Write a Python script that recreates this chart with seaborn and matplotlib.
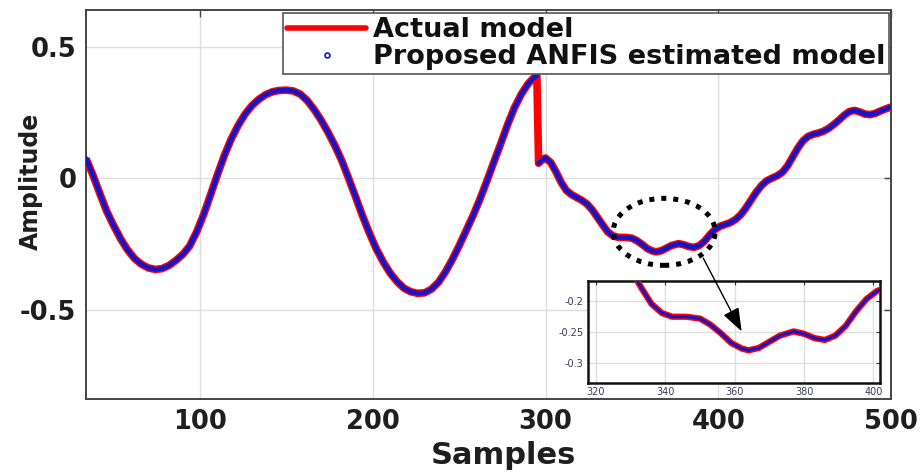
import numpy as np
import pandas as pd
import matplotlib
matplotlib.use("Agg")
import matplotlib.pyplot as plt
from matplotlib.lines import Line2D
from matplotlib.patches import Ellipse
import seaborn as sns

# ---------------- data ----------------
samples = [34, 38, 42, 46, 50, 54, 58, 62, 66, 70, 74, 78, 82, 86, 90, 94, 98,
           102, 106, 110, 114, 118, 122, 126, 130, 134, 138, 142, 146, 150, 154,
           158, 162, 166, 170, 174, 178, 182, 186, 190, 194, 198, 202, 206, 210,
           214, 218, 222, 226, 230, 234, 238, 242, 246, 250, 254, 258, 262, 266,
           270, 274, 278, 282, 286, 290, 293, 295,
           296, 298, 300, 303, 306, 309, 312, 315, 318, 321, 324, 327, 330, 333,
           336, 339, 342, 346, 350, 353, 356, 359, 362, 364, 367, 370, 373, 377,
           380, 383, 386, 389, 392, 395, 398, 401, 404, 407, 410, 413, 416, 419,
           422, 425, 428, 431, 434, 437, 440, 443, 446, 449, 452, 455, 458, 461,
           464, 467, 470, 473, 476, 479, 482, 485, 488, 491, 494, 497, 500]

actual_model = [0.075, 0.012, -0.058, -0.126, -0.18, -0.23, -0.272, -0.305, -0.327,
                -0.341, -0.347, -0.344, -0.332, -0.313, -0.29, -0.258, -0.205,
                -0.14, -0.065, 0.012, 0.085, 0.148, 0.2, 0.243, 0.276, 0.3, 0.318,
                0.329, 0.334, 0.335, 0.332, 0.32, 0.296, 0.262, 0.222, 0.176, 0.125,
                0.068, 0.0, -0.07, -0.142, -0.208, -0.268, -0.318, -0.36, -0.393,
                -0.418, -0.432, -0.438, -0.436, -0.422, -0.396, -0.357, -0.31,
                -0.257, -0.2, -0.143, -0.08, -0.012, 0.06, 0.13, 0.203, 0.268, 0.32,
                0.36, 0.381, 0.39,
                0.057, 0.07, 0.077, 0.06, 0.025, -0.015, -0.046, -0.062, -0.073,
                -0.084, -0.098, -0.12, -0.148, -0.177, -0.204, -0.219, -0.225,
                -0.225, -0.228, -0.238, -0.252, -0.268, -0.277, -0.28, -0.276,
                -0.266, -0.256, -0.249, -0.253, -0.26, -0.263, -0.256, -0.24,
                -0.216, -0.196, -0.183, -0.176, -0.169, -0.157, -0.139, -0.113,
                -0.083, -0.053, -0.028, -0.01, 0.0, 0.009, 0.022, 0.046, 0.08, 0.114,
                0.142, 0.159, 0.167, 0.172, 0.179, 0.19, 0.205, 0.222, 0.24, 0.254,
                0.258, 0.252, 0.244, 0.242, 0.247, 0.256, 0.264, 0.271]

# the ANFIS estimate overlays the actual output
anfis_estimate = list(actual_model)

x_ticks = [100, 200, 300, 400, 500]
x_tick_labels = ["100", "200", "300", "400", "500"]
y_ticks = [-0.5, 0, 0.5]
y_tick_labels = ["-0.5", "0", "0.5"]

inset_x_ticks = [320, 340, 360, 380, 400]
inset_x_tick_labels = ["320", "340", "360", "380", "400"]
inset_y_ticks = [-0.3, -0.25, -0.2]
inset_y_tick_labels = ["-0.3", "-0.25", "-0.2"]

series_labels = ["Actual model", "Proposed ANFIS estimated model"]

# ---------------- styling ----------------
sns.set_style("white")
plt.rcParams["font.family"] = ["DejaVu Sans"]
plt.rcParams["axes.unicode_minus"] = False

RED = "#ff0000"
BLUE = "#1414c8"
GRID = "#dedede"

df = pd.DataFrame({"Sample": samples, "Actual": actual_model,
                   "Estimated": anfis_estimate})
# blue is drawn as markers in the original: no segment across the jump
jump = np.abs(np.diff(df["Estimated"].to_numpy(), prepend=df["Estimated"].iloc[0])) > 0.2
df["segment"] = np.cumsum(jump)

W, H = 921, 474
fig = plt.figure(figsize=(W / 100, H / 100), dpi=100)
ax = fig.add_axes([86 / W, 1 - 399 / H, 805 / W, 389 / H])
ax_in = fig.add_axes([587.7 / W, 1 - 383.3 / H, 292.3 / W, 102.6 / H])


def draw(a, lw_red, lw_blue):
    sns.lineplot(data=df, x="Sample", y="Actual", color=RED, lw=lw_red,
                 estimator=None, sort=False, ax=a, legend=False, zorder=3,
                 solid_joinstyle="round", solid_capstyle="butt")
    sns.lineplot(data=df, x="Sample", y="Estimated", units="segment",
                 color=BLUE, lw=lw_blue, estimator=None, sort=False, ax=a,
                 legend=False, zorder=4, solid_joinstyle="round",
                 solid_capstyle="round")
    a.set_xlabel("")
    a.set_ylabel("")


# main axes
draw(ax, 5.5, 3.4)
ax.set_xlim(34, 500)
ax.set_ylim(-0.84, 0.64)
ax.set_xticks(x_ticks)
ax.set_xticklabels(x_tick_labels)
ax.set_yticks(y_ticks)
ax.set_yticklabels(y_tick_labels)
ax.grid(True, color=GRID, lw=1.0)
ax.set_axisbelow(True)
ax.tick_params(direction="in", length=5, width=1, top=True, right=True,
               labelsize=18.5, pad=7, color="#444444", labelcolor="#1e1e1e")
for t in ax.get_xticklabels() + ax.get_yticklabels():
    t.set_fontweight("bold")
for s in ax.spines.values():
    s.set_color("#444444")
    s.set_linewidth(1.4)

ax.set_xlabel("Samples", fontsize=22, fontweight="bold", color="#1e1e1e")
ax.xaxis.set_label_coords((503 - 86) / 805, (399 - 464) / 389)
ax.xaxis.label.set_va("baseline")
ax.set_ylabel("Amplitude", fontsize=17, fontweight="bold", color="#1e1e1e")
ax.yaxis.set_label_coords((31 - 86) / 805, (399 - 181) / 389)
ax.yaxis.label.set_va("center")

# dotted ellipse around the zoomed region
ell = Ellipse((368.7, -0.204), 59, 0.255, fill=False, edgecolor="black",
              lw=3.6, linestyle=(0, (1, 1.4)), zorder=6)
ell.set_capstyle("butt")
ax.add_patch(ell)

# legend
handles = [Line2D([], [], color=RED, lw=4),
           Line2D([], [], color=BLUE, ls="none", marker="o", ms=3.5,
                  mfc="none", mew=1.2)]
leg = ax.legend(handles, series_labels, loc="upper right",
                bbox_to_anchor=(889 / W, 1 - 13 / H),
                bbox_transform=fig.transFigure, fancybox=False, framealpha=1,
                edgecolor="#555555", borderpad=0.15, labelspacing=0.04,
                handlelength=2.9, handletextpad=0.25, borderaxespad=0,
                prop={"size": 19.5, "weight": "bold"})
leg.get_frame().set_linewidth(1.2)
leg.set_zorder(10)
for t in leg.get_texts():
    t.set_color("#111111")

# inset
draw(ax_in, 4.5, 2.2)
ax_in.set_xlim(317.6, 401.9)
ax_in.set_ylim(-0.334, -0.166)
ax_in.set_xticks(inset_x_ticks)
ax_in.set_xticklabels(inset_x_tick_labels)
ax_in.set_yticks(inset_y_ticks)
ax_in.set_yticklabels(inset_y_tick_labels)
ax_in.grid(True, color=GRID, lw=1.0)
ax_in.set_axisbelow(True)
ax_in.set_facecolor("white")
ax_in.tick_params(direction="in", length=3, width=0.8, top=True, right=True,
                  labelsize=7, pad=3, color="#333333", labelcolor="#3a3a5a")
for s in ax_in.spines.values():
    s.set_color("#111111")
    s.set_linewidth(1.8)

# arrow from the ellipse to the inset
ax_in.annotate("", xy=(362.0, -0.249), xycoords="data",
               xytext=(391.3, -0.304), textcoords=ax.transData,
               arrowprops=dict(arrowstyle="-|>,head_length=0.6,head_width=0.22",
                               mutation_scale=24, color="black", lw=1.0,
                               shrinkA=0, shrinkB=0),
               annotation_clip=False, zorder=20)

fig.savefig("out.png", dpi=100)
